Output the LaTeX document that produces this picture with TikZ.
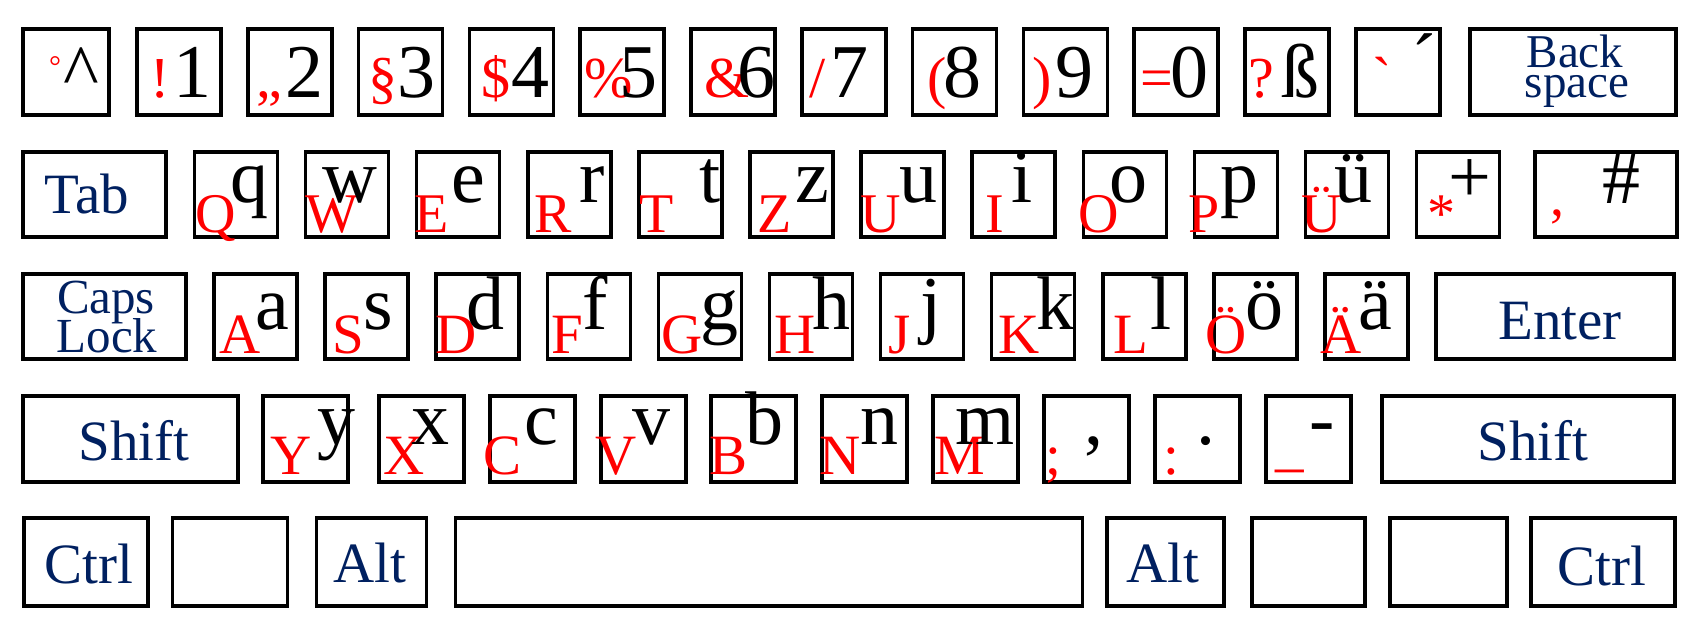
\documentclass[tikz,border=0pt]{standalone}
\usepackage{fontspec}
\newfontfamily\keyfont{Liberation Serif}
\usepackage{xcolor}
\definecolor{keyred}{RGB}{255,0,0}
\definecolor{keyblue}{RGB}{0,32,96}
\usepackage{tikz}
\tikzset{
  keybox/.style={rectangle,draw=black,line width=3.5pt,anchor=north west,
    inner sep=0pt,outer sep=0pt},
  shiftch/.style={anchor=base,inner sep=0pt,text=keyred,
    font=\keyfont\fontsize{#1}{#1}\selectfont},
  shiftch/.default=56,
  mainch/.style={anchor=base,inner sep=0pt,text=black,
    font=\keyfont\fontsize{76}{76}\selectfont},
  funclbl/.style={anchor=base,inner sep=0pt,text=keyblue,
    font=\keyfont\fontsize{#1}{#1}\selectfont},
  funclbl/.default=57,
}

\begin{document}
\begin{tikzpicture}[x=1pt,y=-1pt]
  \useasboundingbox (0,0) rectangle (1701,634);
  % number row
  \node[keybox,minimum width=86,minimum height=86] (kcirc) at (23,29) {};
  \node[shiftch=30] (kcirc-s) at (55,77) {°};
  \node[mainch] (kcirc-m) at (81,97) {\textasciicircum};
  \foreach \s/\sx/\m/\mx [count=\i from 0] in {!/23/1/55, „/22/2/57, §/24/3/58,
      \$/27/4/61, \%/28/5/58, \&/36/6/65, {/}/16/7/48, {(}/25/8/50, {)}/19/9/51,
      =/23/0/55, ?/16/ß/55}{
    \pgfmathsetmacro{\kx}{137+110.8*\i}
    \node[keybox,minimum width=84,minimum height=86] (n\i) at (\kx,29) {};
    \node[shiftch=58] (n\i-s) at (\kx+\sx,97) {\s};
    \node[mainch] (n\i-m) at (\kx+\mx,97) {\m};
  }
  \node[keybox,minimum width=84,minimum height=86] (kacc) at (1356,29) {};
  \node[shiftch=58] (kacc-s) at (1382,97) {`};
  \node[mainch] (kacc-m) at (1424,87) {´};
  \node[keybox,minimum width=206,minimum height=86] (kback) at (1470,29) {};
  \node[funclbl=47] (kback-a) at (1575,68) {Back};
  \node[funclbl=47] (kback-b) at (1577,97) {space};
  % upper letter row
  \node[keybox,minimum width=143,minimum height=85] (ktab) at (23,152) {};
  \node[funclbl] (ktab-l) at (87,213) {Tab};
  \foreach \s/\sx/\m/\mx [count=\i from 0] in {Q/21/q/55, W/26/w/44, E/15/e/52,
      R/25/r/64, T/18/t/71, Z/25/z/62, U/20/u/57, I/23/i/50, O/15/o/45,
      P/10/p/45, Ü/16/ü/48, */25/+/53}{
    \pgfmathsetmacro{\kx}{194.5+111.1*\i}
    \node[keybox,minimum width=83,minimum height=85] (q\i) at (\kx,152) {};
    \node[shiftch] (q\i-s) at (\kx+\sx,232) {\s};
    \node[mainch] (q\i-m) at (\kx+\mx,202) {\m};
  }
  \node[keybox,minimum width=142,minimum height=85] (khash) at (1535,152) {};
  \node[shiftch] (khash-s) at (1557,215) {,};
  \node[mainch] (khash-m) at (1621,203) {\#};
  % home row
  \node[keybox,minimum width=163,minimum height=85] (kcaps) at (23,274) {};
  \node[funclbl=49] (kcaps-a) at (106,313) {Caps};
  \node[funclbl=49] (kcaps-b) at (107,352) {Lock};
  \foreach \s/\sx/\m/\mx [count=\i from 0] in {A/26/a/58, S/23/s/53, D/20/d/49,
      F/20/f/48, G/24/g/61, H/26/h/62, J/19/j/50, K/27/k/64, L/28/l/58,
      Ö/12/ö/51, Ä/16/ä/50}{
    \pgfmathsetmacro{\kx}{214+111.1*\i}
    \node[keybox,minimum width=83,minimum height=85] (a\i) at (\kx,274) {};
    \node[shiftch=57] (a\i-s) at (\kx+\sx,353) {\s};
    \node[mainch] (a\i-m) at (\kx+\mx,329) {\m};
  }
  \node[keybox,minimum width=238,minimum height=85] (kenter) at (1436,274) {};
  \node[funclbl] (kenter-l) at (1560,339) {Enter};
  % lower letter row
  \node[keybox,minimum width=215,minimum height=86] (klshift) at (23,396) {};
  \node[funclbl] (klshift-l) at (134,460) {Shift};
  \foreach \kx/\s/\sx/\m/\mx [count=\i from 0] in {263/Y/28/y/73, 379/X/25/x/51,
      490/C/13/c/51, 601/V/15/v/50, 711/B/18/b/53, 822/N/18/n/57, 933/M/27/m/52,
      1044/;/9/{,}/50, 1155/:/16/./51, 1266/{\raisebox{9pt}{\_}}/24/-/56}{
    \node[keybox,minimum width=85,minimum height=86] (y\i) at (\kx,396) {};
    \node[shiftch=57] (y\i-s) at (\kx+\sx,474) {\s};
    \node[mainch] (y\i-m) at (\kx+\mx,444) {\m};
  }
  \node[keybox,minimum width=292,minimum height=86] (krshift) at (1382,396) {};
  \node[funclbl] (krshift-l) at (1533,460) {Shift};
  % bottom row
  \foreach \kx/\w [count=\i] in {24/124, 172.5/115, 316.5/110, 455.5/627,
      1107/117, 1252/113, 1390/117, 1531/144}
    \node[keybox,minimum width=\w,minimum height=88] (b\i) at (\kx,518) {};
  \node[funclbl] (b1-l) at (89,583) {Ctrl};
  \node[funclbl] (b3-l) at (370,582) {Alt};
  \node[funclbl] (b5-l) at (1163,582) {Alt};
  \node[funclbl] (b8-l) at (1602,585) {Ctrl};
\end{tikzpicture}
\end{document}
